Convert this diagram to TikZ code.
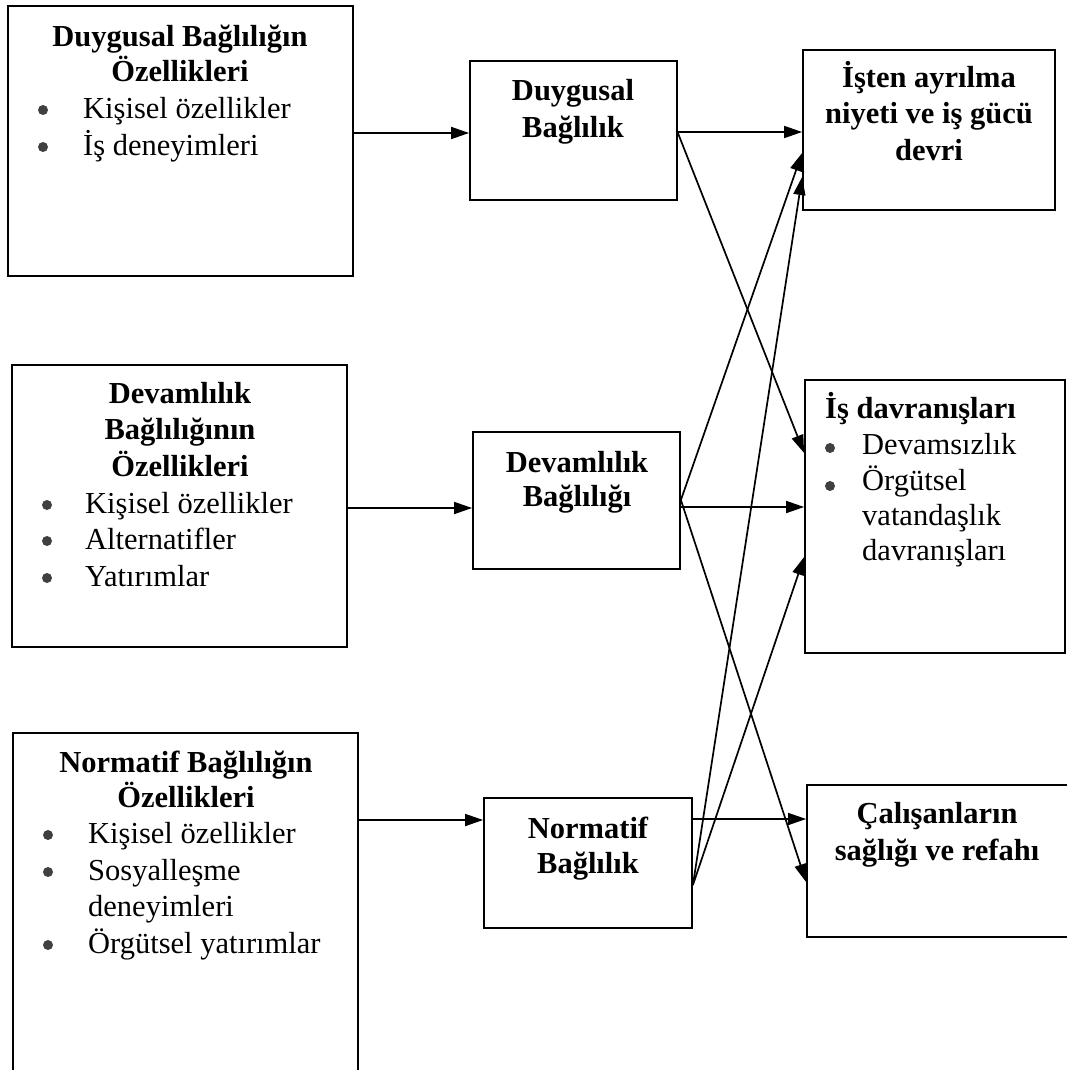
\documentclass[tikz,border=0pt]{standalone}
\usepackage{fontspec}
\setmainfont{Liberation Serif}
\usetikzlibrary{arrows.meta}

\tikzset{
  box/.style={draw, line width=1.8pt, rectangle, inner sep=0pt},
  arr/.style={line width=1.7pt, -{Triangle[length=18pt,width=12pt]}},
  ttl/.style={font=\bfseries\fontsize{30.5}{36}\selectfont, anchor=base, inner sep=0pt},
  ttlw/.style={font=\bfseries\fontsize{30.5}{36}\selectfont, anchor=base west, inner sep=0pt},
  itm/.style={font=\fontsize{30.5}{36}\selectfont, anchor=base west, inner sep=0pt},
  dot/.style={circle, fill=black!75, inner sep=0pt, minimum size=10pt},
}

% box from its corners: name, left, top, right, bottom
\newcommand\mkbox[5]{%
  \node[box, minimum width={#4-#2}, minimum height={#5-#3}]
    (#1) at ({(#2+#4)/2},{(#3+#5)/2}) {};}

\begin{document}
\begin{tikzpicture}[x=1pt,y=-1pt]
\useasboundingbox (0,0) rectangle (1067,1070);
\clip (0,0) rectangle (1067,1070);

% ---- antecedent boxes (left column)
\mkbox{L1}{8}{6}{353}{276}
\mkbox{L2}{12}{365}{347}{647}
\mkbox{L3}{13}{733}{358}{1090}

% ---- commitment boxes (middle column)
\mkbox{M1}{470}{61}{677}{200}
\mkbox{M2}{473}{432}{680}{569}
\mkbox{M3}{484}{798}{692}{928}

% ---- outcome boxes (right column)
\mkbox{R1}{803}{50}{1055}{210}
\mkbox{R2}{805}{380}{1065}{653}
\mkbox{R3}{807}{785}{1080}{937}

% ---- texts of the left column
\node[ttl] (L1t1) at (180,47) {Duygusal Bağlılığın};
\node[ttl] (L1t2) at (180,82) {Özellikleri};
\node[dot] (L1d1) at (43,110) {};
\node[itm] (L1i1) at (83,118) {Kişisel özellikler};
\node[dot] (L1d2) at (43,147) {};
\node[itm] (L1i2) at (83,155) {İş deneyimleri};

\node[ttl] (L2t1) at (180,403) {Devamlılık};
\node[ttl] (L2t2) at (180,439.5) {Bağlılığının};
\node[ttl] (L2t3) at (180,476) {Özellikleri};
\node[dot] (L2d1) at (47,505) {};
\node[itm] (L2i1) at (85,513) {Kişisel özellikler};
\node[dot] (L2d2) at (47,541) {};
\node[itm] (L2i2) at (85,549) {Alternatifler};
\node[dot] (L2d3) at (47,578) {};
\node[itm] (L2i3) at (85,586) {Yatırımlar};

\node[ttl] (L3t1) at (186,772) {Normatif Bağlılığın};
\node[ttl] (L3t2) at (186,807) {Özellikleri};
\node[dot] (L3d1) at (48,835) {};
\node[itm] (L3i1) at (88,843) {Kişisel özellikler};
\node[dot] (L3d2) at (48,872) {};
\node[itm] (L3i2) at (88,880) {Sosyalleşme};
\node[itm] (L3i3) at (88,916) {deneyimleri};
\node[dot] (L3d3) at (48,945) {};
\node[itm] (L3i4) at (88,953) {Örgütsel yatırımlar};

% ---- texts of the middle column
\node[ttl] (M1t1) at (573,101) {Duygusal};
\node[ttl] (M1t2) at (573,137) {Bağlılık};
\node[ttl] (M2t1) at (577,472) {Devamlılık};
\node[ttl] (M2t2) at (577,506) {Bağlılığı};
\node[ttl] (M3t1) at (588,838) {Normatif};
\node[ttl] (M3t2) at (588,873) {Bağlılık};

% ---- texts of the right column
\node[ttl] (R1t1) at (929,88) {İşten ayrılma};
\node[ttl] (R1t2) at (929,124) {niyeti ve iş gücü};
\node[ttl] (R1t3) at (929,160) {devri};

\node[ttlw] (R2t1) at (825,418) {İş davranışları};
\node[dot] (R2d1) at (830,448) {};
\node[itm] (R2i1) at (862,454) {Devamsızlık};
\node[dot] (R2d2) at (830,486) {};
\node[itm] (R2i2) at (862,490) {Örgütsel};
\node[itm] (R2i3) at (862,525) {vatandaşlık};
\node[itm] (R2i4) at (862,560) {davranışları};

\node[ttl] (R3t1) at (937,823) {Çalışanların};
\node[ttl] (R3t2) at (937,860) {sağlığı ve refahı};

% ---- antecedents to commitment
\draw[arr] (L1.east |- 0,133) -- (M1.west |- 0,133);
\draw[arr] (L2.east |- 0,508) -- (M2.west |- 0,508);
\draw[arr] (L3.east |- 0,820) -- (M3.west |- 0,820);

% ---- affective commitment to outcomes
\draw[arr] (M1.east |- 0,132) -- (R1.west |- 0,132);
\draw[arr] (M1.east |- 0,133) -- (R2.west |- 0,453);

% ---- continuance commitment to outcomes
\draw[arr] (M2.east |- 0,500) -- (R1.west |- 0,153);
\draw[arr] (M2.east |- 0,507) -- (R2.west |- 0,507);
\draw[arr] (M2.east |- 0,500) -- (R3.west |- 0,882);

% ---- normative commitment to outcomes
\draw[arr] (M3.east |- 0,885) -- (R1.west |- 0,177);
\draw[arr] (M3.east |- 0,885) -- (R2.west |- 0,557);
\draw[arr] (M3.east |- 0,819) -- (R3.west |- 0,819);
\end{tikzpicture}
\end{document}
